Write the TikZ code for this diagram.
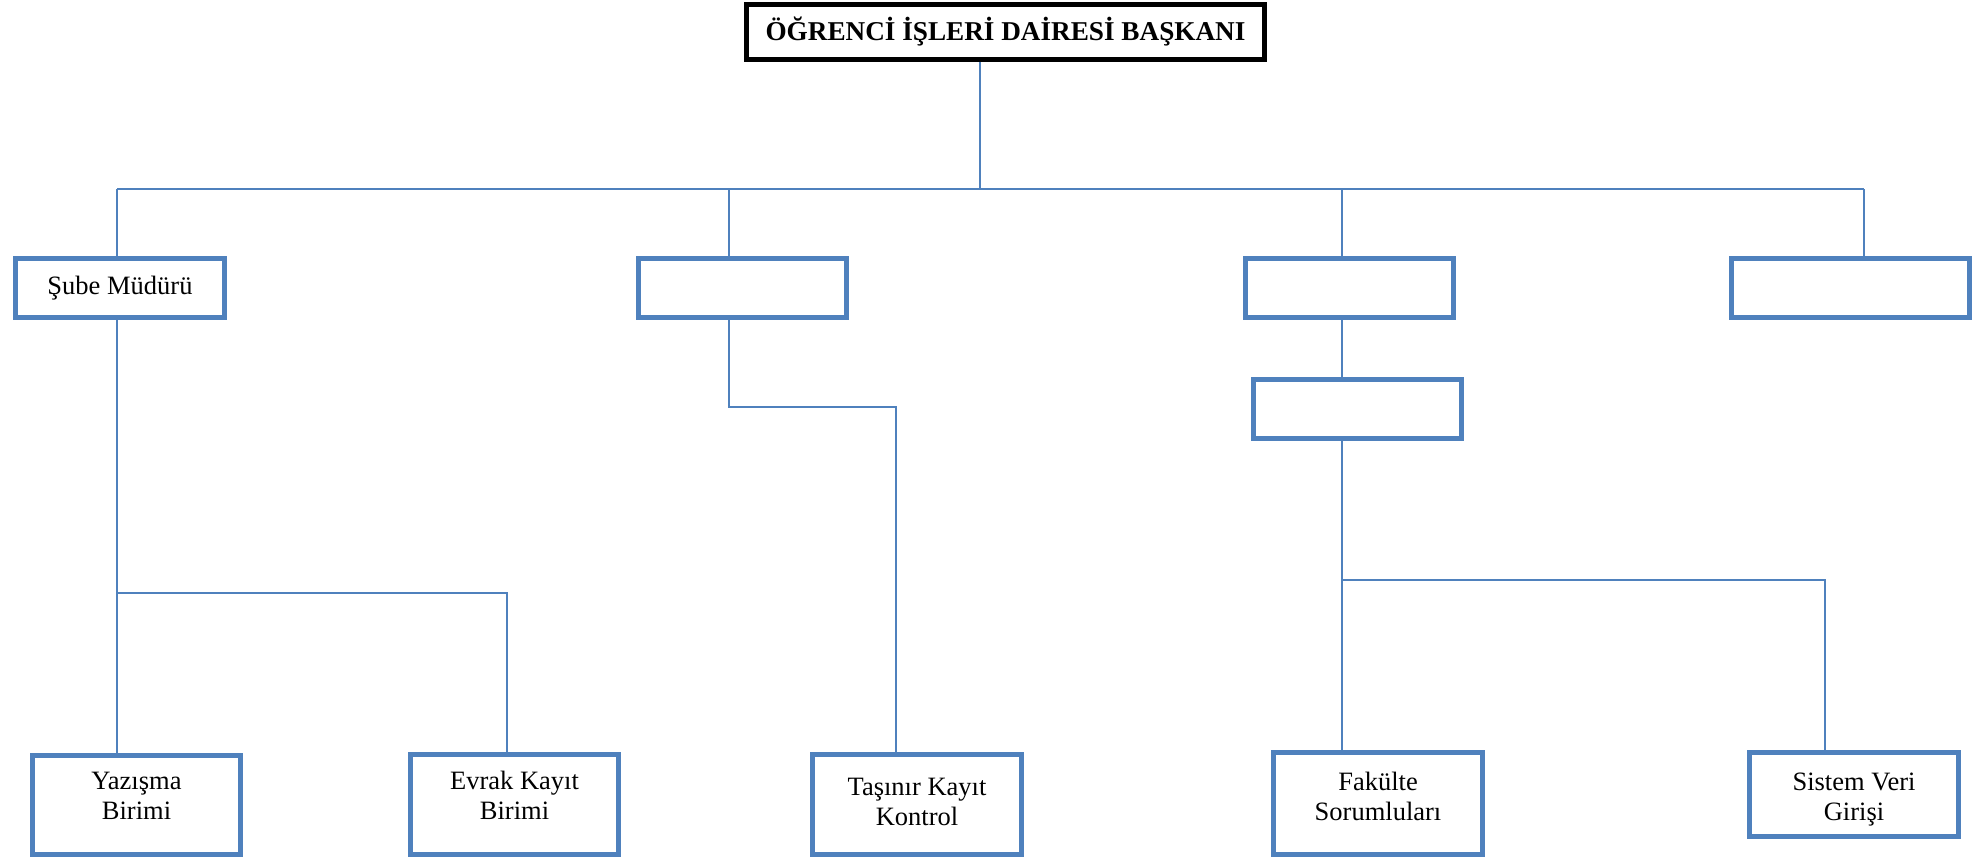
\documentclass[tikz,border=0pt]{standalone}
\usepackage{fontspec}
\setmainfont{Liberation Serif}
\definecolor{boxblue}{RGB}{79,129,189}
\begin{document}
\begin{tikzpicture}[x=1pt,y=-1pt,
  lbl/.style={font=\fontsize{26.5}{30}\selectfont, align=center, inner sep=0pt},
  unitbox/.style={lbl, draw=boxblue, line width=5pt, fill=white},
  headbox/.style={lbl, font=\fontsize{27.2}{30}\selectfont\bfseries, draw=black, line width=5pt, fill=white},
  conn/.style={draw=boxblue, line width=2pt}]
\useasboundingbox (0,0) rectangle (1975,859);
% nodes
\node[headbox, minimum width=518pt, minimum height=55pt] (head) at (1005.5,32) {ÖĞRENCİ İŞLERİ DAİRESİ BAŞKANI};
\node[unitbox, minimum width=209pt, minimum height=59pt] (sube) at (120,288) {Şube Müdürü};
\node[unitbox, minimum width=208pt, minimum height=59pt] (b2) at (742.5,288) {};
\node[unitbox, minimum width=208pt, minimum height=59pt] (b3) at (1349.5,288) {};
\node[unitbox, minimum width=238pt, minimum height=59pt] (b4) at (1850.5,288) {};
\node[unitbox, minimum width=208pt, minimum height=59pt] (b3b) at (1357.5,409) {};
\node[unitbox, minimum width=208pt, minimum height=99pt,
  label={[lbl,yshift=9pt]center:{Yazışma\\Birimi}}] (yaz) at (136.5,805) {};
\node[unitbox, minimum width=208pt, minimum height=100pt,
  label={[lbl,yshift=9pt]center:{Evrak Kayıt\\Birimi}}] (evr) at (514.5,804.5) {};
\node[unitbox, minimum width=209pt, minimum height=100pt,
  label={[lbl,yshift=3pt]center:{Taşınır Kayıt\\Kontrol}}] (tas) at (917,804.5) {};
\node[unitbox, minimum width=209pt, minimum height=102pt,
  label={[lbl,yshift=7pt]center:{Fakülte\\Sorumluları}}] (fak) at (1378,803.5) {};
\node[unitbox, minimum width=209pt, minimum height=84pt,
  label={[lbl,yshift=-5pt]center:{Sistem Veri\\Girişi}}] (sis) at (1854,794.5) {};
% junction coordinates
\coordinate (hb) at (980,189);
\coordinate (j1) at (117,189);
\coordinate (j2) at (729,189);
\coordinate (j3) at (1342,189);
\coordinate (j4) at (1864,189);
\coordinate (s1) at (117,593);
\coordinate (s2) at (507,593);
\coordinate (t1) at (729,407);
\coordinate (t2) at (896,407);
\coordinate (f1) at (1342,580);
\coordinate (f2) at (1825,580);
% connectors
\draw[conn] (head.south -| hb) -- (hb);
\draw[conn] (j1) -- (j4);
\draw[conn] (j1) -- (j1 |- sube.north);
\draw[conn] (j2) -- (j2 |- b2.north);
\draw[conn] (j3) -- (j3 |- b3.north);
\draw[conn] (j4) -- (j4 |- b4.north);
\draw[conn] (s1 |- sube.south) -- (s1 |- yaz.north);
\draw[conn] (s1) -- (s2) -- (s2 |- evr.north);
\draw[conn] (t1 |- b2.south) -- (t1) -- (t2) -- (t2 |- tas.north);
\draw[conn] (j3 |- b3.south) -- (j3 |- b3b.north);
\draw[conn] (f1 |- b3b.south) -- (f1 |- fak.north);
\draw[conn] (f1) -- (f2) -- (f2 |- sis.north);
\end{tikzpicture}
\end{document}
